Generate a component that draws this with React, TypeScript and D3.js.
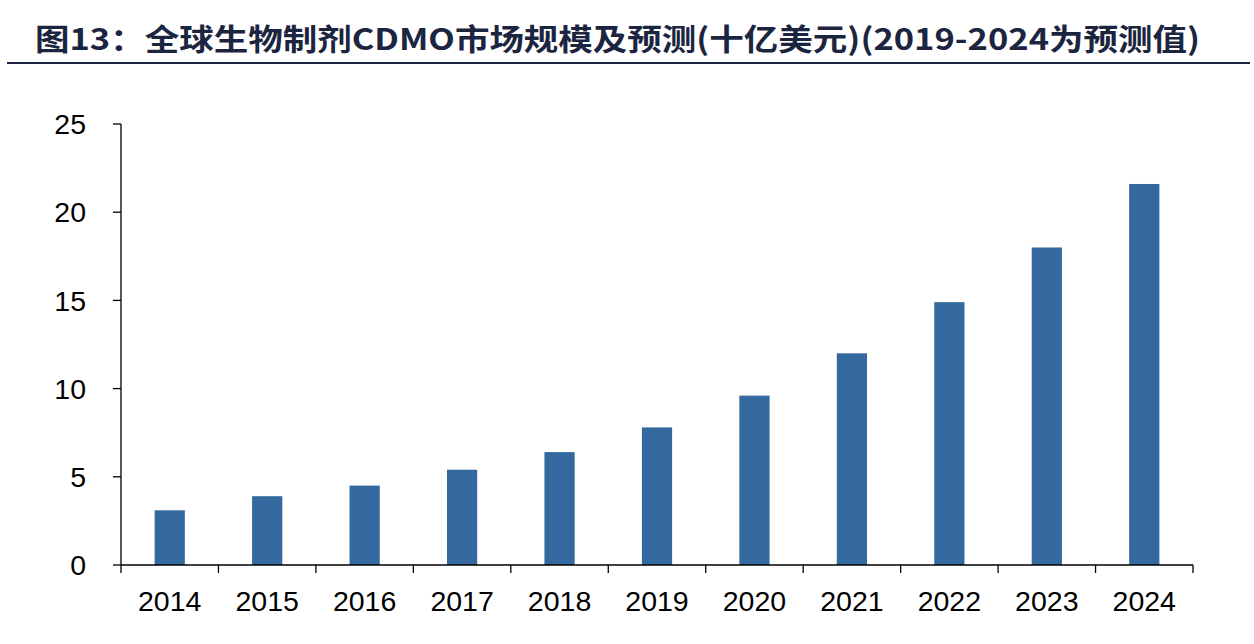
import * as d3 from 'd3';

const TITLE = '图13：全球生物制剂CDMO市场规模及预测(十亿美元)(2019-2024为预测值)';
const years = ['2014', '2015', '2016', '2017', '2018', '2019', '2020', '2021', '2022', '2023', '2024'];
const marketSize = [3.1, 3.9, 4.5, 5.4, 6.4, 7.8, 9.6, 12.0, 14.9, 18.0, 21.6];
const yTicks = [0, 5, 10, 15, 20, 25];

const WIDTH = 1254;
const HEIGHT = 644;
const MARGIN = { top: 124, right: 61, bottom: 79, left: 121 };
const BAR_COLOR = '#33699e';
const FONT = '"Liberation Sans", Arial, sans-serif';

const App = () => {
    const boundsWidth = WIDTH - MARGIN.left - MARGIN.right;
    const boundsHeight = HEIGHT - MARGIN.top - MARGIN.bottom;

    const xScale = d3.scaleBand().domain(years).range([0, boundsWidth]).paddingInner(0.69).paddingOuter(0.345);
    // band boundaries for the tick marks
    const step = boundsWidth / years.length;

    const yScale = d3.scaleLinear().domain([0, 25]).range([boundsHeight, 0]);

    const bars = years.map((year, i) => {
        const x = xScale(year);
        if (x === undefined) return null;
        return (
            <rect
                key={year}
                x={x}
                y={yScale(marketSize[i])}
                width={xScale.bandwidth()}
                height={boundsHeight - yScale(marketSize[i])}
                fill={BAR_COLOR}
            />
        );
    });

    const xLabels = years.map((year) => (
        <text
            key={year}
            x={(xScale(year) ?? 0) + xScale.bandwidth() / 2}
            y={boundsHeight + 46}
            textAnchor="middle"
            fontSize={28.5}
            fontFamily={FONT}
        >
            {year}
        </text>
    ));

    const xTicks = d3.range(years.length + 1).map((i) => (
        <line key={i} x1={i * step} x2={i * step} y1={boundsHeight} y2={boundsHeight + 8} stroke="#000" strokeWidth={1.3} />
    ));

    const yAxis = yTicks.map((v) => (
        <g key={v}>
            <line x1={-8} x2={0} y1={yScale(v)} y2={yScale(v)} stroke="#000" strokeWidth={1.3} />
            <text x={-35} y={yScale(v)} dy="0.36em" textAnchor="end" fontSize={28.5} fontFamily={FONT}>
                {v}
            </text>
        </g>
    ));

    return (
        <div style={{ position: 'absolute', left: 0, top: 0 }}>
            <svg width={WIDTH} height={HEIGHT} style={{ display: 'block', background: '#fff' }}>
                <text
                    x={35}
                    y={50}
                    fontSize={30}
                    fontWeight="bold"
                    fill="#1c2540"
                    fontFamily='"Noto Sans CJK SC", sans-serif'
                    textLength={1165}
                    lengthAdjust="spacingAndGlyphs"
                >
                    {TITLE}
                </text>
                <line x1={7} x2={1250} y1={63} y2={63} stroke="#1c2540" strokeWidth={2} />
                <g transform={`translate(${MARGIN.left},${MARGIN.top})`}>
                    {bars}
                    <line x1={0} x2={0} y1={0} y2={boundsHeight} stroke="#000" strokeWidth={1.3} />
                    <line x1={0} x2={boundsWidth} y1={boundsHeight} y2={boundsHeight} stroke="#000" strokeWidth={1.3} />
                    {xTicks}
                    {yAxis}
                    {xLabels}
                </g>
            </svg>
        </div>
    );
};

export default App;
